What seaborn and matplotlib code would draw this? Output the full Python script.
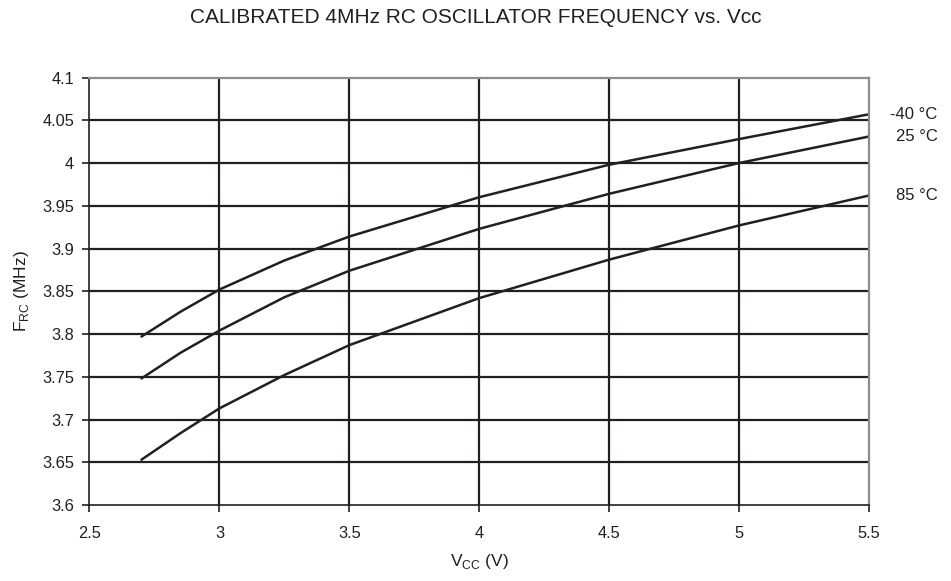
import matplotlib
matplotlib.use("Agg")
import matplotlib.pyplot as plt
import matplotlib.transforms as mtransforms
import pandas as pd
import seaborn as sns

# values
vcc = [2.7, 2.85, 3.0, 3.25, 3.5, 4.0, 4.5, 5.0, 5.5]
f_m40 = [3.797, 3.826, 3.852, 3.886, 3.914, 3.960, 3.998, 4.028, 4.057]
f_25 = [3.748, 3.778, 3.804, 3.843, 3.874, 3.923, 3.964, 4.000, 4.031]
f_85 = [3.653, 3.684, 3.713, 3.752, 3.787, 3.842, 3.887, 3.927, 3.962]
labels = ["-40 °C", "25 °C", "85 °C"]

df = pd.concat([
    pd.DataFrame({"vcc": vcc, "f": f, "temp": lab})
    for f, lab in zip([f_m40, f_25, f_85], labels)
])

sns.set_style("white")
plt.rcParams["font.family"] = ["Liberation Sans", "DejaVu Sans"]

dark = "#231f20"
fig = plt.figure(figsize=(9.51, 5.81), dpi=100)
ax = fig.add_axes([0.0941, 0.1308, 0.8197, 0.7358])

sns.lineplot(data=df, x="vcc", y="f", hue="temp", palette=[dark] * 3,
             linewidth=1.8, legend=False, ax=ax, sort=True)

ax.set_xlim(2.5, 5.5)
ax.set_ylim(3.6, 4.1)
ax.set_xticks([2.5, 3, 3.5, 4, 4.5, 5, 5.5])
ax.set_xticklabels(["2.5", "3", "3.5", "4", "4.5", "5", "5.5"])
yt = [3.6, 3.65, 3.7, 3.75, 3.8, 3.85, 3.9, 3.95, 4.0, 4.05, 4.1]
ax.set_yticks(yt)
ax.set_yticklabels(["3.6", "3.65", "3.7", "3.75", "3.8", "3.85", "3.9",
                    "3.95", "4", "4.05", "4.1"])

# grid lines like the datasheet
for v in [3, 3.5, 4, 4.5, 5]:
    ax.axvline(v, color=dark, lw=1.6, zorder=0)
for v in yt[1:-1]:
    ax.axhline(v, color=dark, lw=1.6, zorder=0)

for side in ["left", "bottom"]:
    ax.spines[side].set_color(dark)
    ax.spines[side].set_linewidth(1.2)
for side in ["top", "right"]:
    ax.spines[side].set_color("#8a8d8f")
    ax.spines[side].set_linewidth(1.6)

ax.tick_params(axis="both", direction="out", length=5, width=1.2,
               color=dark, labelsize=11.8, labelcolor="#231f20",
               bottom=True, left=True, pad=6)
ax.tick_params(axis="x", pad=10)

ax.set_xlabel("V$_{\\mathregular{CC}}$ (V)", fontsize=12.5, color=dark, labelpad=8)
ax.set_ylabel("F$_{\\mathregular{RC}}$ (MHz)", fontsize=12.5, color=dark, labelpad=8)
fig.suptitle("CALIBRATED 4MHz RC OSCILLATOR FREQUENCY vs. Vcc",
             x=0.5, y=0.987, fontsize=15, color=dark)

trans = mtransforms.blended_transform_factory(ax.transAxes, ax.transData)
for f, lab in zip([f_m40, f_25, f_85], labels):
    ax.text(1.088, f[-1], lab, transform=trans, ha="right", va="center",
            fontsize=12, color=dark)

fig.savefig("out.png", dpi=100)
